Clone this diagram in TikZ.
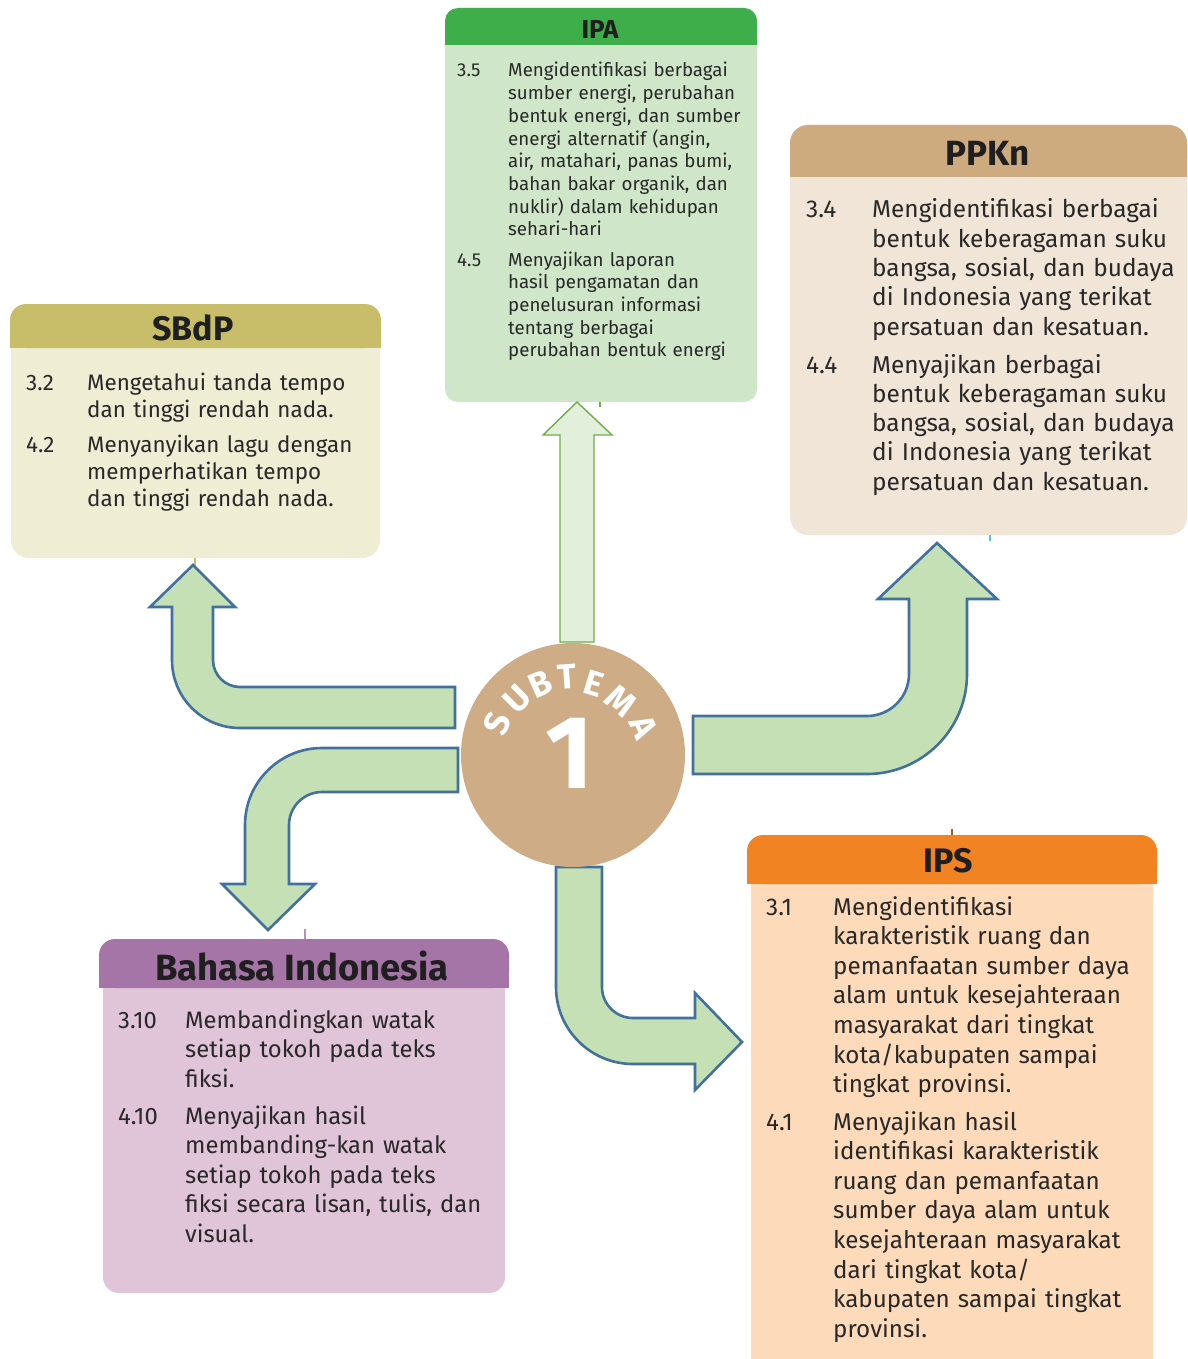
\documentclass[tikz,border=0pt]{standalone}
\usepackage{fontspec}
\setmainfont{Fira Sans}
\definecolor{arrowfill}{RGB}{197,224,180}
\definecolor{arrowline}{RGB}{65,113,156}
\definecolor{upfill}{RGB}{226,239,218}
\definecolor{upline}{RGB}{112,173,71}
\definecolor{hub}{RGB}{206,172,134}
\definecolor{ipahead}{RGB}{61,174,73}
\definecolor{ipabody}{RGB}{207,230,201}
\definecolor{ppknhead}{RGB}{206,170,127}
\definecolor{ppknbody}{RGB}{240,229,214}
\definecolor{sbdphead}{RGB}{200,190,106}
\definecolor{sbdpbody}{RGB}{240,237,213}
\definecolor{bindhead}{RGB}{166,117,168}
\definecolor{bindbody}{RGB}{224,197,216}
\definecolor{ipshead}{RGB}{242,131,34}
\definecolor{ipsbody}{RGB}{253,218,185}
\definecolor{ink}{RGB}{40,40,40}
\definecolor{stubblue}{RGB}{79,195,247}

\newcommand\ipasize{\fontsize{18.7}{22.7}\selectfont}
\newcommand\ppknsize{\fontsize{24.4}{29.3}\selectfont}
\newcommand\sbdpsize{\fontsize{22.4}{27.2}\selectfont}
\newcommand\bindsize{\fontsize{23.8}{29.6}\selectfont}
\newcommand\ipssize{\fontsize{24.2}{29.6}\selectfont}

\tikzset{
  bentarrow/.style={fill=arrowfill, draw=arrowline, line width=2.6pt, line join=miter},
  uparrow/.style={fill=upfill, draw=upline, line width=1.4pt, line join=miter},
  boxtitle/.style={font=\bfseries\fontsize{#1}{#1}\selectfont, text=black!88, inner sep=0pt},
  itemno/.style={anchor=base west, inner sep=0pt, text=ink},
  itemtext/.style={anchor=base west, inner sep=0pt, text=ink, align=left, text width=340pt},
  hubletter/.style={text=white, inner sep=0pt, font=\bfseries\fontsize{35}{35}\selectfont},
  stub/.style={line width=2.5pt},
}

\begin{document}
\begin{tikzpicture}[x=1pt, y=-1pt]
\useasboundingbox (0,0) rectangle (1187,1359);
\clip (0,0) rectangle (1187,1359);

% ---------- subject boxes ----------
% IPA
\fill[ipabody, rounded corners=13pt] (445,8) rectangle (757,402);
\fill[ipahead, rounded corners=13pt] (445,8) rectangle (757,45);
\fill[ipahead] (445,29) rectangle (757,45);
% PPKn
\fill[ppknbody, rounded corners=18pt] (790,125) rectangle (1187,535);
\fill[ppknhead, rounded corners=18pt] (790,125) rectangle (1187,177);
\fill[ppknhead] (790,155) rectangle (1187,177);
% SBdP
\fill[sbdpbody, rounded corners=18pt] (11,304) rectangle (380,558);
\fill[sbdphead, rounded corners=16pt] (10,304) rectangle (381,348);
\fill[sbdphead] (10,326) rectangle (381,348);
% Bahasa Indonesia
\fill[bindbody, rounded corners=16pt] (103,945) rectangle (505,1293);
\fill[bindhead, rounded corners=16pt] (99,939) rectangle (509,988);
\fill[bindhead] (99,964) rectangle (509,988);
% IPS
\fill[ipsbody, rounded corners=16pt] (751,840) rectangle (1153,1375);
\fill[ipshead, rounded corners=16pt] (747,835) rectangle (1157,884);
\fill[ipshead] (747,860) rectangle (1157,884);

% small connector stubs at the box edges
\draw[stub, draw=upline] (600,402) -- (600,407);
\draw[stub, draw=sbdphead] (195,558) -- (195,566);
\draw[stub, draw=stubblue] (990,535) -- (990,541);
\draw[stub, draw=bindhead!80] (305,929) -- (305,939);
\draw[stub, draw=ipshead!70!black] (952,829) -- (952,835);

% ---------- titles ----------
\node[boxtitle=26] (ipatitle) at (600,29) {IPA};
\node[boxtitle=35] (ppkntitle) at (988,153) {PPKn};
\node[boxtitle=34] (sbdptitle) at (193,328) {SBdP};
\node[boxtitle=36.5] (bindtitle) at (302,966) {Bahasa Indonesia};
\node[boxtitle=34] (ipstitle) at (948,861) {IPS};

% ---------- competencies ----------
% IPA
\node[itemno, font=\ipasize] (ipa35n) at (457,77) {3.5};
\node[itemtext, font=\ipasize] (ipa35) at (508,77) {Mengidentifikasi berbagai\\
sumber energi, perubahan\\ bentuk energi, dan sumber\\ energi alternatif (angin,\\
air, matahari, panas bumi,\\ bahan bakar organik, dan\\ nuklir) dalam kehidupan\\ sehari-hari};
\node[itemno, font=\ipasize] (ipa45n) at (457,266) {4.5};
\node[itemtext, font=\ipasize] (ipa45) at (508,266) {Menyajikan laporan\\
hasil pengamatan dan\\ penelusuran informasi\\ tentang berbagai\\ perubahan bentuk energi};

% PPKn
\node[itemno, font=\ppknsize] (ppkn34n) at (806,218) {3.4};
\node[itemtext, font=\ppknsize] (ppkn34) at (872,218) {Mengidentifikasi berbagai\\
bentuk keberagaman suku\\ bangsa, sosial, dan budaya\\ di Indonesia yang terikat\\
persatuan dan kesatuan.};
\node[itemno, font=\ppknsize] (ppkn44n) at (806,373) {4.4};
\node[itemtext, font=\ppknsize] (ppkn44) at (872,373) {Menyajikan berbagai\\
bentuk keberagaman suku\\ bangsa, sosial, dan budaya\\ di Indonesia yang terikat\\
persatuan dan kesatuan.};

% SBdP
\node[itemno, font=\sbdpsize] (sbdp32n) at (26,390) {3.2};
\node[itemtext, font=\sbdpsize] (sbdp32) at (87,390) {Mengetahui tanda tempo\\
dan tinggi rendah nada.};
\node[itemno, font=\sbdpsize] (sbdp42n) at (26,452) {4.2};
\node[itemtext, font=\sbdpsize] (sbdp42) at (87,452) {Menyanyikan lagu dengan\\
memperhatikan tempo\\ dan tinggi rendah nada.};

% Bahasa Indonesia
\node[itemno, font=\bindsize] (bind310n) at (118,1028) {3.10};
\node[itemtext, font=\bindsize] (bind310) at (185,1028) {Membandingkan watak\\
setiap tokoh pada teks\\ fiksi.};
\node[itemno, font=\bindsize] (bind410n) at (118,1124) {4.10};
\node[itemtext, font=\bindsize] (bind410) at (185,1124) {Menyajikan hasil\\
membanding-kan watak\\ setiap tokoh pada teks\\ fiksi secara lisan, tulis, dan\\ visual.};

% IPS
\node[itemno, font=\ipssize] (ips31n) at (766,915) {3.1};
\node[itemtext, font=\ipssize] (ips31) at (833,915) {Mengidentifikasi\\
karakteristik ruang dan\\ pemanfaatan sumber daya\\ alam untuk kesejahteraan\\
masyarakat dari tingkat\\ kota/kabupaten sampai\\ tingkat provinsi.};
\node[itemno, font=\ipssize] (ips41n) at (766,1130) {4.1};
\node[itemtext, font=\ipssize] (ips41) at (833,1130) {Menyajikan hasil\\
identifikasi karakteristik\\ ruang dan pemanfaatan\\ sumber daya alam untuk\\
kesejahteraan masyarakat\\ dari tingkat kota/\\ kabupaten sampai tingkat\\ provinsi.};

% ---------- arrows from the hub ----------
% straight up to IPA
\draw[uparrow] (560,642) -- (560,435) -- (543,435) -- (577,402) -- (612,435)
  -- (594,435) -- (594,642) -- cycle;
% bent left and up to SBdP
\draw[bentarrow] (193,565) -- (235,607) -- (213,607) -- (213,660)
  .. controls (213,674.9) and (225.1,687) .. (240,687) -- (455,687) -- (455,728)
  -- (240,728) .. controls (202.4,728) and (172,697.6) .. (172,660)
  -- (172,607) -- (150,607) -- cycle;
% bent right and up to PPKn
\draw[bentarrow] (937,543) -- (997,599) -- (967,599) -- (967,674)
  .. controls (967,729.2) and (922.2,774) .. (867,774) -- (693,774) -- (693,716)
  -- (867,716) .. controls (890.2,716) and (909,697.2) .. (909,674)
  -- (909,599) -- (878,599) -- cycle;
% bent left and down to Bahasa Indonesia
\draw[bentarrow] (458,748) -- (322,748) .. controls (279.5,748) and (245,782.5) .. (245,825)
  -- (245,884) -- (222,884) -- (268,930) -- (315,884) -- (289,884) -- (289,825)
  .. controls (289,806.8) and (303.8,792) .. (322,792) -- (458,792) -- cycle;
% bent down and right to IPS
\draw[bentarrow] (556,867) -- (602,867) -- (602,987)
  .. controls (602,1004.1) and (615.9,1018) .. (633,1018) -- (695,1018) -- (695,993)
  -- (742,1042) -- (695,1090) -- (695,1064) -- (633,1064)
  .. controls (590.5,1064) and (556,1029.5) .. (556,987) -- cycle;

% ---------- hub ----------
\node[circle, fill=hub, minimum size=224pt, inner sep=0pt] (hub) at (573,755) {};
\node[text=white, inner sep=0pt, font=\bfseries\fontsize{104}{104}\selectfont] (hubnum) at (570,753) {1};
% "SUBTEMA" letters set round the top of the hub
\node[hubletter, rotate=67] (hs) at (497,724) {S};
\node[hubletter, rotate=45] (hu) at (517,699) {U};
\node[hubletter, rotate=24] (hb) at (540,684) {B};
\node[hubletter, rotate=4] (ht) at (567,677) {T};
\node[hubletter, rotate=-17] (he) at (594,684) {E};
\node[hubletter, rotate=-40] (hm) at (621,701) {M};
\node[hubletter, rotate=-66] (ha) at (644,727) {A};
\end{tikzpicture}
\end{document}
